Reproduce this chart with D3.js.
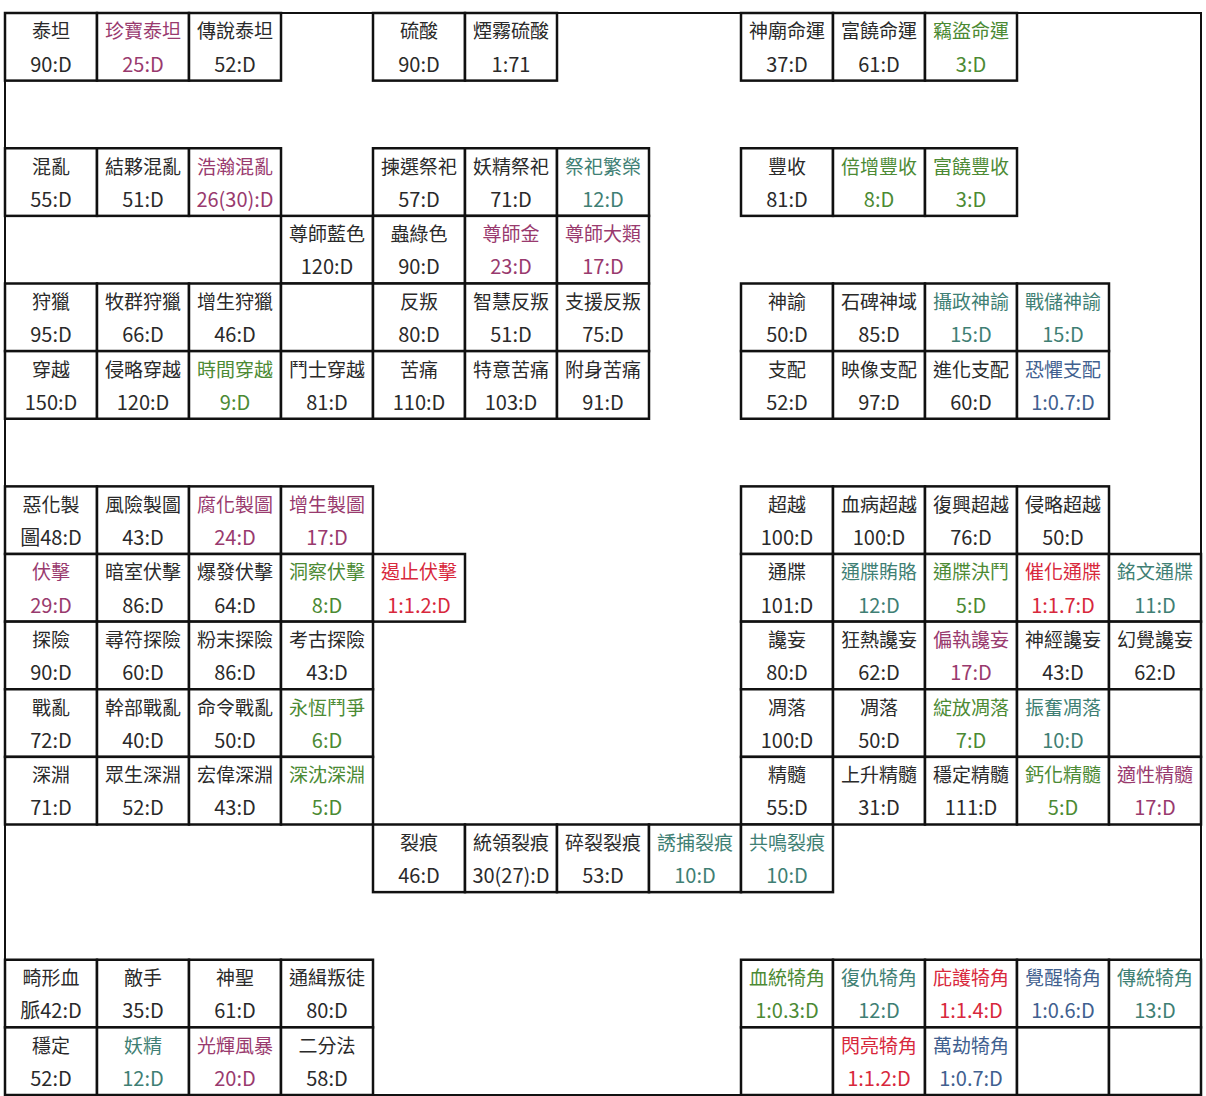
<!DOCTYPE html>
<html><head><meta charset="utf-8">
<script src="https://cdn.jsdelivr.net/npm/d3@7"></script>
<style>body{margin:0;background:#fff}svg{display:block}</style>
</head><body><svg id="c" width="1206" height="1096"></svg>
<script>
// [row, col, name, value, colorKey]
const cellsTop = [
 [0,0,"泰坦","90:D","k"],[0,1,"珍寶泰坦","25:D","p"],[0,2,"傳說泰坦","52:D","k"],
 [0,4,"硫酸","90:D","k"],[0,5,"煙霧硫酸","1:71","k"],
 [0,8,"神廟命運","37:D","k"],[0,9,"富饒命運","61:D","k"],[0,10,"竊盜命運","3:D","g"],
 [2,0,"混亂","55:D","k"],[2,1,"結夥混亂","51:D","k"],[2,2,"浩瀚混亂","26(30):D","p"],
 [2,4,"揀選祭祀","57:D","k"],[2,5,"妖精祭祀","71:D","k"],[2,6,"祭祀繁榮","12:D","t"],
 [2,8,"豐收","81:D","k"],[2,9,"倍增豐收","8:D","g"],[2,10,"富饒豐收","3:D","g"],
 [3,3,"尊師藍色","120:D","k"],[3,4,"蟲綠色","90:D","k"],[3,5,"尊師金","23:D","p"],[3,6,"尊師大類","17:D","p"]
];
const cellsMid = [
 [4,0,"狩獵","95:D","k"],[4,1,"牧群狩獵","66:D","k"],[4,2,"增生狩獵","46:D","k"],[4,3,"","","k"],
 [4,4,"反叛","80:D","k"],[4,5,"智慧反叛","51:D","k"],[4,6,"支援反叛","75:D","k"],
 [4,8,"神諭","50:D","k"],[4,9,"石碑神域","85:D","k"],[4,10,"攝政神諭","15:D","t"],[4,11,"戰儲神諭","15:D","t"],
 [5,0,"穿越","150:D","k"],[5,1,"侵略穿越","120:D","k"],[5,2,"時間穿越","9:D","g"],[5,3,"鬥士穿越","81:D","k"],
 [5,4,"苦痛","110:D","k"],[5,5,"特意苦痛","103:D","k"],[5,6,"附身苦痛","91:D","k"],
 [5,8,"支配","52:D","k"],[5,9,"映像支配","97:D","k"],[5,10,"進化支配","60:D","k"],[5,11,"恐懼支配","1:0.7:D","b"]
];
const cellsLow = [
 [7,0,"惡化製","圖48:D","k"],[7,1,"風險製圖","43:D","k"],[7,2,"腐化製圖","24:D","p"],[7,3,"增生製圖","17:D","p"],
 [7,8,"超越","100:D","k"],[7,9,"血病超越","100:D","k"],[7,10,"復興超越","76:D","k"],[7,11,"侵略超越","50:D","k"],
 [8,0,"伏擊","29:D","p"],[8,1,"暗室伏擊","86:D","k"],[8,2,"爆發伏擊","64:D","k"],[8,3,"洞察伏擊","8:D","g"],[8,4,"遏止伏擊","1:1.2:D","r"],
 [8,8,"通牒","101:D","k"],[8,9,"通牒賄賂","12:D","t"],[8,10,"通牒決鬥","5:D","g"],[8,11,"催化通牒","1:1.7:D","r"],[8,12,"銘文通牒","11:D","t"],
 [9,0,"探險","90:D","k"],[9,1,"尋符探險","60:D","k"],[9,2,"粉末探險","86:D","k"],[9,3,"考古探險","43:D","k"],
 [9,8,"讒妄","80:D","k"],[9,9,"狂熱讒妄","62:D","k"],[9,10,"偏執讒妄","17:D","p"],[9,11,"神經讒妄","43:D","k"],[9,12,"幻覺讒妄","62:D","k"],
 [10,0,"戰亂","72:D","k"],[10,1,"幹部戰亂","40:D","k"],[10,2,"命令戰亂","50:D","k"],[10,3,"永恆鬥爭","6:D","g"],
 [10,8,"凋落","100:D","k"],[10,9,"凋落","50:D","k"],[10,10,"綻放凋落","7:D","g"],[10,11,"振奮凋落","10:D","t"],[10,12,"","","k"],
 [11,0,"深淵","71:D","k"],[11,1,"眾生深淵","52:D","k"],[11,2,"宏偉深淵","43:D","k"],[11,3,"深沈深淵","5:D","g"],
 [11,8,"精髓","55:D","k"],[11,9,"上升精髓","31:D","k"],[11,10,"穩定精髓","111:D","k"],[11,11,"鈣化精髓","5:D","g"],[11,12,"適性精髓","17:D","p"],
 [12,4,"裂痕","46:D","k"],[12,5,"統領裂痕","30(27):D","k"],[12,6,"碎裂裂痕","53:D","k"],[12,7,"誘捕裂痕","10:D","t"],[12,8,"共鳴裂痕","10:D","t"]
];
const cellsBottom = [
 [14,0,"畸形血","脈42:D","k"],[14,1,"敵手","35:D","k"],[14,2,"神聖","61:D","k"],[14,3,"通緝叛徒","80:D","k"],
 [14,8,"血統犄角","1:0.3:D","g"],[14,9,"復仇犄角","12:D","t"],[14,10,"庇護犄角","1:1.4:D","r"],[14,11,"覺醒犄角","1:0.6:D","b"],[14,12,"傳統犄角","13:D","t"],
 [15,0,"穩定","52:D","k"],[15,1,"妖精","12:D","t"],[15,2,"光輝風暴","20:D","p"],[15,3,"二分法","58:D","k"],
 [15,8,"","","k"],[15,9,"閃亮犄角","1:1.2:D","r"],[15,10,"萬劫犄角","1:0.7:D","b"],[15,11,"","","k"],[15,12,"","","k"]
];
const colorKeys = {k:"#2a2a2a",p:"#993a6e",g:"#4c8a34",t:"#3f7f74",r:"#d8283c",b:"#41608f"};

const cells = [...cellsTop,...cellsMid,...cellsLow,...cellsBottom];
const svg = d3.select("#c");
const x = d3.scaleBand().domain(d3.range(13)).range([5,1201]);
const y = d3.scaleBand().domain(d3.range(16)).range([13,1095]);

svg.append("rect").attr("x",5).attr("y",13).attr("width",1196).attr("height",1082)
  .attr("fill","none").attr("stroke","#111").attr("stroke-width",2);

const g = svg.selectAll("g.cell").data(cells).join("g")
  .attr("transform",d=>`translate(${x(d[1])},${y(d[0])})`);
g.append("rect").attr("width",x.bandwidth()).attr("height",y.bandwidth())
  .attr("fill","#fff").attr("stroke","#111").attr("stroke-width",2.5);
g.append("line").attr("x1",0).attr("x2",0).attr("y1",0).attr("y2",y.bandwidth()).attr("stroke","#111").attr("stroke-width",1.5);
g.append("text").attr("x",x.bandwidth()/2).attr("y",y.bandwidth()*0.25)
  .attr("text-anchor","middle").attr("dominant-baseline","central")
  .attr("font-family","'Noto Sans CJK TC','Noto Sans CJK SC',sans-serif").attr("font-size",19)
  .attr("fill",d=>colorKeys[d[4]]).text(d=>d[2]);
g.append("text").attr("x",x.bandwidth()/2).attr("y",y.bandwidth()*0.74)
  .attr("text-anchor","middle").attr("dominant-baseline","central")
  .attr("font-family","'Noto Sans CJK TC','Noto Sans CJK SC',sans-serif").attr("font-size",20)
  .attr("fill",d=>colorKeys[d[4]]).text(d=>d[3]);
</script></body></html>
